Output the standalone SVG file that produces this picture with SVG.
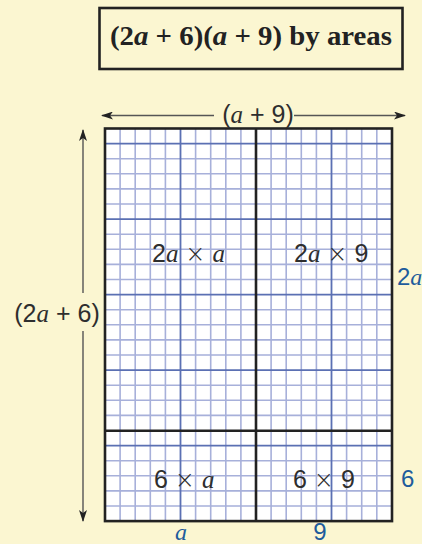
<svg xmlns="http://www.w3.org/2000/svg" width="422" height="544" viewBox="0 0 422 544">
<style>
.minor{stroke:#a7b0da;stroke-width:1.6;fill:none}
.major{stroke:#5b70b3;stroke-width:1.8;fill:none}
.border{stroke:#222;stroke-width:2.6;fill:none}
.dim{stroke:#555;stroke-width:1.4;fill:none}
.lbl{font-family:"Liberation Sans",Arial,sans-serif;font-size:25px;fill:#2e2e2e}
.blue{font-family:"Liberation Sans",Arial,sans-serif;font-size:24px;fill:#1e5c9c}
.it{font-family:"Liberation Serif","Times New Roman",serif;font-style:italic}
.x{font-family:"DejaVu Sans",sans-serif;font-weight:200;font-size:24px}
.title{font-family:"Liberation Serif","Times New Roman",serif;font-weight:bold;font-size:27px;fill:#222}
</style>
<defs>
<marker id="ah" viewBox="0 0 12 8" refX="11" refY="4" markerWidth="12" markerHeight="8" markerUnits="userSpaceOnUse" orient="auto-start-reverse">
<path d="M0,0 L12,4 L0,8 L3,4 Z" fill="#222"/>
</marker>
</defs>
<rect width="422" height="544" fill="#fbf6d1"/>
<g id="title">
<rect x="99.5" y="8" width="303" height="61" fill="#fbf6d1" stroke="#222" stroke-width="2.6"/>
<text class="title" x="251" y="45" text-anchor="middle" textLength="282" lengthAdjust="spacingAndGlyphs">(2<tspan font-style="italic">a</tspan> + 6)(<tspan font-style="italic">a</tspan> + 9) by areas</text>
</g>
<g id="grid">
<rect x="105" y="128.5" width="287" height="392.6" fill="#ffffff"/>
<path class="minor" d="M120.1,128.5V521.1M135.2,128.5V521.1M150.3,128.5V521.1M165.4,128.5V521.1M195.6,128.5V521.1M210.7,128.5V521.1M225.8,128.5V521.1M240.9,128.5V521.1M271.1,128.5V521.1M286.2,128.5V521.1M301.3,128.5V521.1M316.4,128.5V521.1M346.6,128.5V521.1M361.7,128.5V521.1M376.8,128.5V521.1
M105,158.7H392M105,173.8H392M105,188.9H392M105,204H392M105,234.2H392M105,249.3H392M105,264.4H392M105,279.5H392M105,309.7H392M105,324.8H392M105,339.9H392M105,355H392M105,385.2H392M105,400.3H392M105,415.4H392M105,460.7H392M105,475.8H392M105,490.9H392M105,506H392"/>
<path class="major" d="M180.5,128.5V521.1M331.5,128.5V521.1M105,143.6H392M105,219.1H392M105,294.6H392M105,370.1H392M105,445.6H392"/>
</g>
<g id="region-2a-a"><text class="lbl" x="152" y="262">2<tspan class="it">a</tspan> <tspan class="x">×</tspan> <tspan class="it">a</tspan></text></g>
<g id="region-2a-9"><text class="lbl" x="294" y="262">2<tspan class="it">a</tspan> <tspan class="x">×</tspan> 9</text></g>
<g id="region-6-a"><text class="lbl" x="154" y="488">6 <tspan class="x">×</tspan> <tspan class="it">a</tspan></text></g>
<g id="region-6-9"><text class="lbl" x="293" y="488">6 <tspan class="x">×</tspan> 9</text></g>
<g id="dividers">
<path class="border" d="M256,128.5V521.1M105,430.8H392"/>
<rect class="border" x="105" y="128.5" width="287" height="392.6"/>
</g>
<g id="connectors">
<path class="dim" d="M214,115.5H102" marker-end="url(#ah)"/>
<path class="dim" d="M294,115.5H405" marker-end="url(#ah)"/>
<path class="dim" d="M83,293V130" marker-end="url(#ah)"/>
<path class="dim" d="M83,331V521" marker-end="url(#ah)"/>
</g>
<g id="dim-labels">
<text class="lbl" x="258" y="123" text-anchor="middle">(<tspan class="it">a</tspan> + 9)</text>
<text class="lbl" x="57" y="322" text-anchor="middle">(2<tspan class="it">a</tspan> + 6)</text>
<text class="blue" x="397" y="285">2<tspan class="it">a</tspan></text>
<text class="blue" x="401" y="487">6</text>
<text class="blue" x="181" y="540" text-anchor="middle"><tspan class="it">a</tspan></text>
<text class="blue" x="320" y="540" text-anchor="middle">9</text>
</g>
</svg>
